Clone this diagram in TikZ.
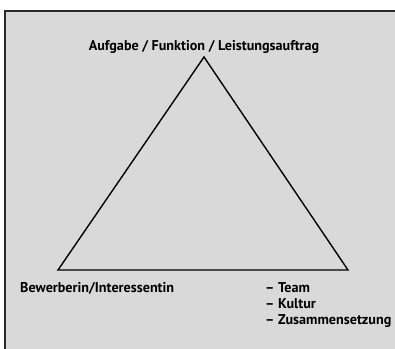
\documentclass[tikz,border=0pt]{standalone}
\usepackage{fontspec}
\setmainfont{PT Sans}
\usetikzlibrary{positioning}
\definecolor{panelgray}{HTML}{D9D9D9}
\definecolor{framegray}{HTML}{2A2A2A}

\begin{document}
\begin{tikzpicture}[
    x=1bp, y=-1bp,
    every node/.style={inner sep=0pt, font=\bfseries\fontsize{14.2}{16}\selectfont},
    side/.style={draw=black, line width=1.4bp, line join=miter},
    item/.style={anchor=base west}
]
\clip (0,0) rectangle (395,349);
\fill[white] (0,0) rectangle (395,349);
\filldraw[fill=panelgray, draw=framegray, line width=2.2bp] (5,11) rectangle (420,380);
% corners of the triangle
\coordinate (top) at (204,57);
\coordinate (left) at (58,270);
\coordinate (right) at (348,270);
\draw[side] (top) -- (right) -- (left) -- cycle;
% labels
\node[anchor=base] (task) at (204,50) {Aufgabe / Funktion / Leistungsauftrag};
\node[item] (person) at (20,292) {Bewerberin/Interessentin};
\node[item] (team) at (265,292) {-- Team};
\node[item] (culture) at (265,308) {-- Kultur};
\node[item] (mix) at (265,324) {-- Zusammensetzung};
\end{tikzpicture}
\end{document}
